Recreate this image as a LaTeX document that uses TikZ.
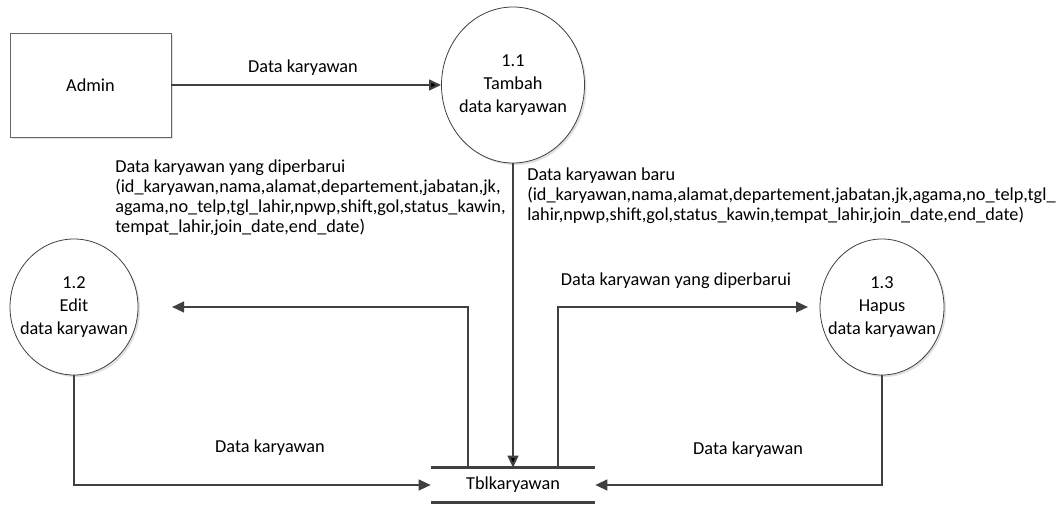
\documentclass[tikz,border=0pt]{standalone}
\usepackage{fontspec}
\setmainfont{Carlito}
\usetikzlibrary{arrows.meta,shapes,positioning,shadows}

\begin{document}
\begin{tikzpicture}[x=0.75pt,y=-0.75pt]
\tikzset{every node/.style={font=\fontsize{13.7}{15}\selectfont, align=center},
proc/.style={ellipse,draw=black!75,line width=0.6pt,fill=white,inner xsep=-12pt,inner ysep=0pt,
font=\fontsize{13.7}{17.25}\selectfont,
general shadow={fill=black!12,shadow xshift=1.5pt,shadow yshift=-1.5pt}},
flowtext/.style={align=left,inner sep=0pt,anchor=north west},
flow/.style={draw=black!75,line width=1.6pt,->,>={Triangle[length=9pt,width=8pt]}}}
\useasboundingbox (0,0) rectangle (1062,505);

\node[draw=black!60,line width=0.6pt,fill=white,minimum width=120.75pt,minimum height=78pt,
general shadow={fill=black!12,shadow xshift=1.5pt,shadow yshift=-1.5pt}] (admin) at (90.5,85) {Admin};
\node[proc,minimum width=107.25pt,minimum height=117pt] (tambah-data) at (513,85) {1.1\\Tambah\\data karyawan};
\node[proc,minimum width=96pt,minimum height=102pt] (edit-data) at (74,307) {1.2\\Edit\\data karyawan};
\node[proc,minimum width=93pt,minimum height=102pt] (hapus-data) at (882,307) {1.3\\Hapus\\data karyawan};
\node[minimum width=123pt,minimum height=25.5pt,inner sep=0pt] (tbl-karyawan) at (513,485) {Tblkaryawan};
\draw[draw=black!75,line width=2.2pt] (tbl-karyawan.north west) -- (tbl-karyawan.north east)
(tbl-karyawan.south west) -- (tbl-karyawan.south east);

\coordinate (edit-in) at (172,307);
\coordinate (hapus-in) at (808,307);

\path[flow]
(admin) edge (tambah-data)
(tambah-data) edge (tbl-karyawan);
\draw[flow] ([xshift=-33.75pt]tbl-karyawan.north) |- (edit-in);
\draw[flow] ([xshift=33.75pt]tbl-karyawan.north) |- (hapus-in);
\draw[flow] (edit-data.south) |- (tbl-karyawan.west);
\draw[flow] (hapus-data.south) |- (tbl-karyawan.east);

% labels on the flows
\node (lbl-admin) at (303,68) {Data karyawan};
\node[flowtext] (lbl-edit) at (115,160) {Data karyawan yang diperbarui\\
(id\_karyawan,nama,alamat,departement,jabatan,jk,\\
agama,no\_telp,tgl\_lahir,npwp,shift,gol,status\_kawin,\\
tempat\_lahir,join\_date,end\_date)};
\node[flowtext] (lbl-baru) at (527,168) {Data karyawan baru\\
(id\_karyawan,nama,alamat,departement,jabatan,jk,agama,no\_telp,tgl\_\\
lahir,npwp,shift,gol,status\_kawin,tempat\_lahir,join\_date,end\_date)};
\node (lbl-hapus) at (676,281) {Data karyawan yang diperbarui};
\node (lbl-edit-tbl) at (270,448) {Data karyawan};
\node (lbl-hapus-tbl) at (748,450) {Data karyawan};
\end{tikzpicture}
\end{document}
